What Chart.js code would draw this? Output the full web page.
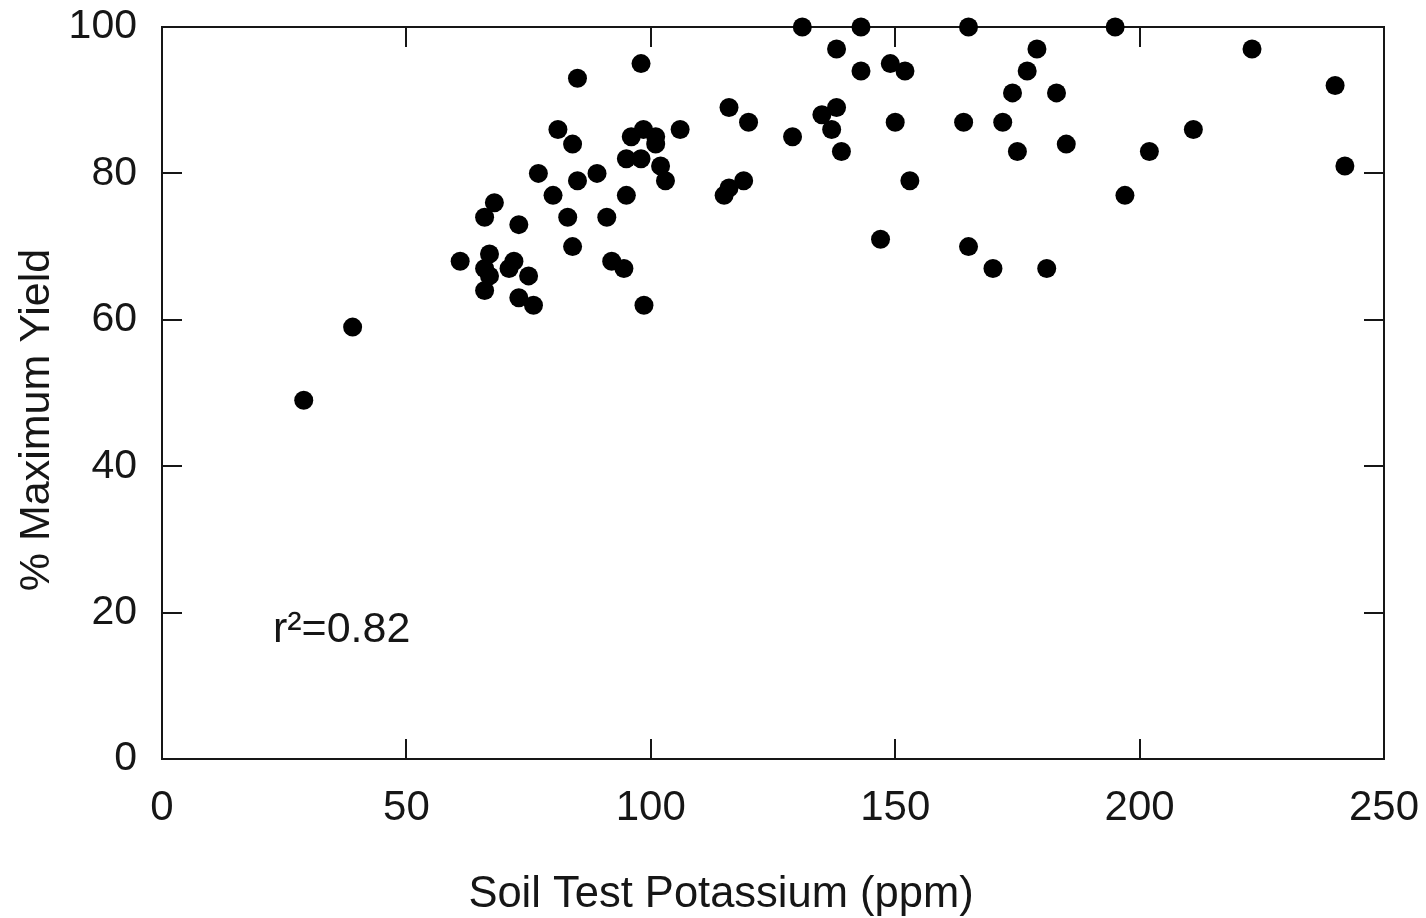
<!DOCTYPE html>
<html>
<head>
<meta charset="utf-8">
<script src="https://cdn.jsdelivr.net/npm/chart.js@4"></script>
<style>
html,body{margin:0;padding:0;background:#fff;}
#wrap{width:1426px;height:918px;position:relative;}
</style>
</head>
<body>
<div id="wrap"><canvas id="c"></canvas></div>
<script>
// Soil test potassium (ppm)
const potassium = [29,39,61,66,66,67,67,71,72,73,75,76,73,66,68,
  77,80,81,84,85,85,89,83,84,91,92,94.5,95,95,98,96,98.5,101,101,102,103,98,98.6,106,
  115,116,116,119,120,129,131,135,137,138,138,139,143,143,147,149,150,152,153,
  164,165,165,170,172,174,175,177,179,181,183,185,195,197,202,211,223,240,242];
// % maximum yield
const yieldPct = [49,59,68,64,67,66,69,67,68,63,66,62,73,74,76,
  80,77,86,84,79,93,80,74,70,74,68,67,77,82,82,85,86,85,84,81,79,95,62,86,
  77,78,89,79,87,85,100,88,86,89,97,83,100,94,71,95,87,94,79,
  87,100,70,67,87,91,83,94,97,67,91,84,100,77,83,86,97,92,81];
const xTicks = [0,50,100,150,200,250];
const yTicks = [0,20,40,60,80,100];
const xTitle = 'Soil Test Potassium (ppm)';
const yTitle = '% Maximum Yield';
const annotation = 'r\u00B2=0.82';
const annotationPos = [22.7, 17.6];

const FONT = '"Liberation Sans", Arial, sans-serif';
const INK = '#161616';

const framePlugin = {
  id: 'frame',
  beforeDatasetsDraw(chart) {
    const {ctx, chartArea: a, scales: {x, y}} = chart;
    ctx.save();
    ctx.strokeStyle = INK;
    ctx.lineWidth = 2;
    ctx.strokeRect(a.left, a.top, a.right - a.left, a.bottom - a.top);
    const L = 20;
    ctx.beginPath();
    xTicks.forEach(v => {
      const px = Math.round(x.getPixelForValue(v));
      ctx.moveTo(px, a.bottom); ctx.lineTo(px, a.bottom - L);
      ctx.moveTo(px, a.top); ctx.lineTo(px, a.top + L);
    });
    yTicks.forEach(v => {
      const py = Math.round(y.getPixelForValue(v));
      ctx.moveTo(a.left, py); ctx.lineTo(a.left + L, py);
      ctx.moveTo(a.right, py); ctx.lineTo(a.right - L, py);
    });
    ctx.stroke();
    ctx.restore();
  },
  afterDraw(chart) {
    const {ctx, chartArea: a, scales: {x, y}} = chart;
    // y axis title
    ctx.save();
    ctx.fillStyle = INK;
    ctx.font = '43px ' + FONT;
    ctx.translate(37, 420);
    ctx.rotate(-Math.PI / 2);
    ctx.textAlign = 'center';
    ctx.textBaseline = 'middle';
    ctx.fillText(yTitle, 0, 0);
    ctx.restore();
    // x axis title
    ctx.save();
    ctx.fillStyle = INK;
    ctx.font = '43.5px ' + FONT;
    ctx.textAlign = 'center';
    ctx.textBaseline = 'alphabetic';
    ctx.fillText(xTitle, 721, 907);
    ctx.restore();
    // r^2 annotation
    ctx.save();
    ctx.fillStyle = INK;
    ctx.font = '43px ' + FONT;
    ctx.textAlign = 'left';
    ctx.textBaseline = 'middle';
    ctx.fillText(annotation, x.getPixelForValue(annotationPos[0]), y.getPixelForValue(annotationPos[1]));
    ctx.restore();
  }
};

new Chart(document.getElementById('c'), {
  type: 'scatter',
  data: {
    datasets: [{
      data: potassium.map((v, i) => ({x: v, y: yieldPct[i]})),
      backgroundColor: '#000',
      borderWidth: 0,
      pointRadius: 9.5,
      pointHoverRadius: 9.5,
      clip: false
    }]
  },
  options: {
    responsive: true,
    maintainAspectRatio: false,
    animation: false,
    layout: {padding: {top: 27, right: 42, left: 0, bottom: 0}},
    plugins: {legend: {display: false}, tooltip: {enabled: false}},
    scales: {
      x: {
        type: 'linear', min: 0, max: 250,
        afterBuildTicks(s) { s.ticks = xTicks.map(v => ({value: v})); },
        afterFit(s) { s.height = 159; s.paddingLeft = 0; s.paddingRight = 0; },
        grid: {display: false, drawTicks: false},
        border: {display: false},
        ticks: {color: INK, font: {family: FONT, size: 42}, padding: 24, maxRotation: 0},
        title: {display: false}
      },
      y: {
        type: 'linear', min: 0, max: 100,
        afterBuildTicks(s) { s.ticks = yTicks.map(v => ({value: v})); },
        afterFit(s) { s.width = 162; s.paddingTop = 0; s.paddingBottom = 0; },
        grid: {display: false, drawTicks: false},
        border: {display: false},
        ticks: {color: INK, font: {family: FONT, size: 41}, padding: 25},
        title: {display: false}
      }
    }
  },
  plugins: [framePlugin]
});
</script>
</body>
</html>
